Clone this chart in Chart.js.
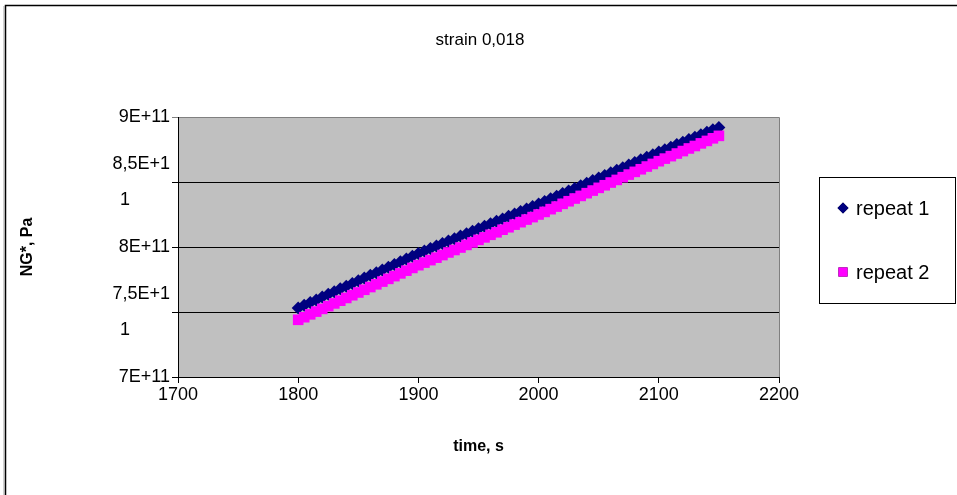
<!DOCTYPE html>
<html>
<head>
<meta charset="utf-8">
<script src="https://cdn.jsdelivr.net/npm/chart.js@4/dist/chart.umd.min.js"></script>
<style>
  html, body { margin: 0; padding: 0; background: #fff; }
  #wrap { width: 957px; height: 495px; position: relative; }
</style>
</head>
<body>
<div id="wrap"><canvas id="chart1" width="957" height="495"></canvas></div>
<script>
// time, s
var times = [1800,1805,1810,1815,1820,1825,1830,1835,1840,1845,1850,1855,1860,1865,1870,1875,1880,1885,1890,1895,
             1900,1905,1910,1915,1920,1925,1930,1935,1940,1945,1950,1955,1960,1965,1970,1975,1980,1985,1990,1995,
             2000,2005,2010,2015,2020,2025,2030,2035,2040,2045,2050,2055,2060,2065,2070,2075,2080,2085,2090,2095,
             2100,2105,2110,2115,2120,2125,2130,2135,2140,2145,2150];

// NG*, Pa (in units of 1E+11)
var repeat1 = [7.530,7.552,7.573,7.593,7.615,7.636,7.656,7.678,7.698,7.720,7.740,7.761,7.782,7.802,7.824,7.844,7.866,7.886,7.908,7.928,
               7.950,7.969,7.988,8.008,8.026,8.046,8.064,8.084,8.102,8.122,8.140,8.159,8.178,8.198,8.216,8.236,8.254,8.274,8.292,8.312,
               8.330,8.350,8.371,8.390,8.411,8.430,8.450,8.471,8.490,8.511,8.530,8.550,8.571,8.590,8.610,8.630,8.650,8.671,8.690,8.710,
               8.730,8.749,8.768,8.788,8.806,8.826,8.844,8.864,8.882,8.902,8.920];
var repeat2 = [7.440,7.460,7.482,7.503,7.524,7.545,7.566,7.587,7.608,7.629,7.650,7.671,7.692,7.713,7.734,7.755,7.776,7.797,7.818,7.839,
               7.860,7.880,7.899,7.918,7.938,7.958,7.977,7.996,8.016,8.035,8.055,8.074,8.094,8.113,8.133,8.152,8.172,8.191,8.211,8.230,
               8.250,8.270,8.291,8.311,8.332,8.352,8.373,8.393,8.414,8.434,8.455,8.475,8.496,8.516,8.537,8.557,8.578,8.598,8.619,8.639,
               8.660,8.680,8.699,8.719,8.738,8.758,8.777,8.797,8.816,8.836,8.855];
var unit = 1e11;

var seriesNames = ["repeat 1", "repeat 2"];
var chartTitle = "strain 0,018";
var yTickLabels = {900: ["9E+11"], 850: ["8,5E+1", "1        "], 800: ["8E+11"], 750: ["7,5E+1", "1        "], 700: ["7E+11"]};
var xTicks = [1700, 1800, 1900, 2000, 2100, 2200];

function toPoints(vals) {
  var pts = [];
  for (var i = 0; i < times.length; i++) {
    pts.push({x: times[i], y: vals[i] * unit});
  }
  return pts;
}

var FONT = "Arial, 'Liberation Sans', sans-serif";

// grey plot area, chart frame and title
var plotBg = {
  id: 'plotBg',
  beforeDraw: function(chart) {
    var ctx = chart.ctx, a = chart.chartArea;
    ctx.save();
    ctx.fillStyle = '#C0C0C0';
    ctx.fillRect(a.left, a.top, a.right - a.left, a.bottom - a.top);
    ctx.strokeStyle = '#808080';
    ctx.lineWidth = 1;
    ctx.beginPath();
    ctx.moveTo(a.left, a.top + 0.5);
    ctx.lineTo(a.right + 0.5, a.top + 0.5);
    ctx.lineTo(a.right + 0.5, a.bottom);
    ctx.stroke();
    // outer chart border
    ctx.strokeStyle = '#000';
    ctx.lineWidth = 1.5;
    ctx.beginPath();
    ctx.moveTo(5.5, 495);
    ctx.lineTo(5.5, 5.5);
    ctx.lineTo(957, 5.5);
    ctx.stroke();
    ctx.strokeStyle = '#A0A0A0';
    ctx.lineWidth = 1;
    ctx.beginPath();
    ctx.moveTo(4, 495);
    ctx.lineTo(4, 6);
    ctx.stroke();
    // title
    ctx.fillStyle = '#000';
    ctx.font = '17px ' + FONT;
    ctx.textAlign = 'center';
    ctx.textBaseline = 'middle';
    ctx.fillText(chartTitle, 480, 40);
    ctx.restore();
  }
};

// Excel style legend box on the right
var boxLegend = {
  id: 'boxLegend',
  afterDraw: function(chart) {
    var ctx = chart.ctx;
    ctx.save();
    ctx.strokeStyle = '#000';
    ctx.lineWidth = 1;
    ctx.strokeRect(819.5, 177.5, 136, 126);
    var ys = [208, 272];
    chart.data.datasets.forEach(function(ds, i) {
      Chart.helpers.drawPoint(ctx, {
        pointStyle: ds.pointStyle,
        radius: ds.pointStyle === 'rect' ? 6.5 : 5.5,
        borderWidth: 0
      }, 843, ys[i]);
      ctx.fillStyle = ds.backgroundColor;
      ctx.fill();
      ctx.fillStyle = '#000';
      ctx.font = '20px ' + FONT;
      ctx.textBaseline = 'middle';
      ctx.textAlign = 'left';
      ctx.fillText(ds.label, 856, ys[i] + 1);
    });
    ctx.restore();
  }
};

var myChart = new Chart(document.getElementById("chart1"), {
  type: 'scatter',
  data: {
    datasets: [
      {
        label: seriesNames[0],
        data: toPoints(repeat1),
        pointStyle: 'rectRot',
        pointRadius: 6.5,
        pointHoverRadius: 6.5,
        backgroundColor: '#000080',
        borderColor: '#000080',
        borderWidth: 0,
        order: 2
      },
      {
        label: seriesNames[1],
        data: toPoints(repeat2),
        pointStyle: 'rect',
        pointRadius: 7.5,
        pointHoverRadius: 7.5,
        backgroundColor: '#FF00FF',
        borderColor: '#FF00FF',
        borderWidth: 0,
        order: 1
      }
    ]
  },
  options: {
    responsive: false,
    animation: false,
    layout: { padding: { left: 0, right: 178, top: 117, bottom: 0 } },
    plugins: {
      legend: { display: false },
      tooltip: { enabled: false },
      title: { display: false }
    },
    scales: {
      x: {
        type: 'linear',
        min: 1700,
        max: 2200,
        afterBuildTicks: function(scale) {
          scale.ticks = xTicks.map(function(v) { return {value: v}; });
        },
        afterFit: function(scale) { scale.height = 118; },
        grid: { drawOnChartArea: false, drawTicks: true, tickLength: 6, color: '#000', lineWidth: 1 },
        border: { display: true, color: '#000', width: 1 },
        ticks: {
          color: '#000',
          padding: 1,
          maxRotation: 0,
          autoSkip: false,
          font: { family: FONT, size: 18 },
          callback: function(v) { return String(v); }
        },
        title: {
          display: true,
          text: 'time, s',
          color: '#000',
          font: { family: FONT, size: 16, weight: 'bold', lineHeight: 1.2 },
          padding: { top: 0, bottom: 38.4 }
        }
      },
      y: {
        type: 'linear',
        min: 7e11,
        max: 9e11,
        afterBuildTicks: function(scale) {
          var t = [];
          for (var k in yTickLabels) t.push({value: Number(k) * 1e9});
          t.sort(function(a, b) { return a.value - b.value; });
          scale.ticks = t;
        },
        afterFit: function(scale) { scale.width = 178; },
        grid: {
          drawOnChartArea: true,
          drawTicks: true,
          tickLength: 6,
          lineWidth: 1,
          color: function(c) { return (c.tick && c.tick.value === 9e11) ? '#808080' : '#000'; }
        },
        border: { display: true, color: '#000', width: 1 },
        ticks: {
          color: '#000',
          padding: 2,
          autoSkip: false,
          font: { family: FONT, size: 18, lineHeight: 1.95 },
          callback: function(v) {
            var key = Math.round(v / 1e9);
            return yTickLabels[key] || '';
          }
        },
        title: {
          display: true,
          text: 'NG*, Pa',
          color: '#000',
          font: { family: FONT, size: 16, weight: 'bold', lineHeight: 1.2 },
          padding: { top: 18.4, bottom: 0 }
        }
      }
    }
  },
  plugins: [plotBg, boxLegend]
});
</script>
</body>
</html>
